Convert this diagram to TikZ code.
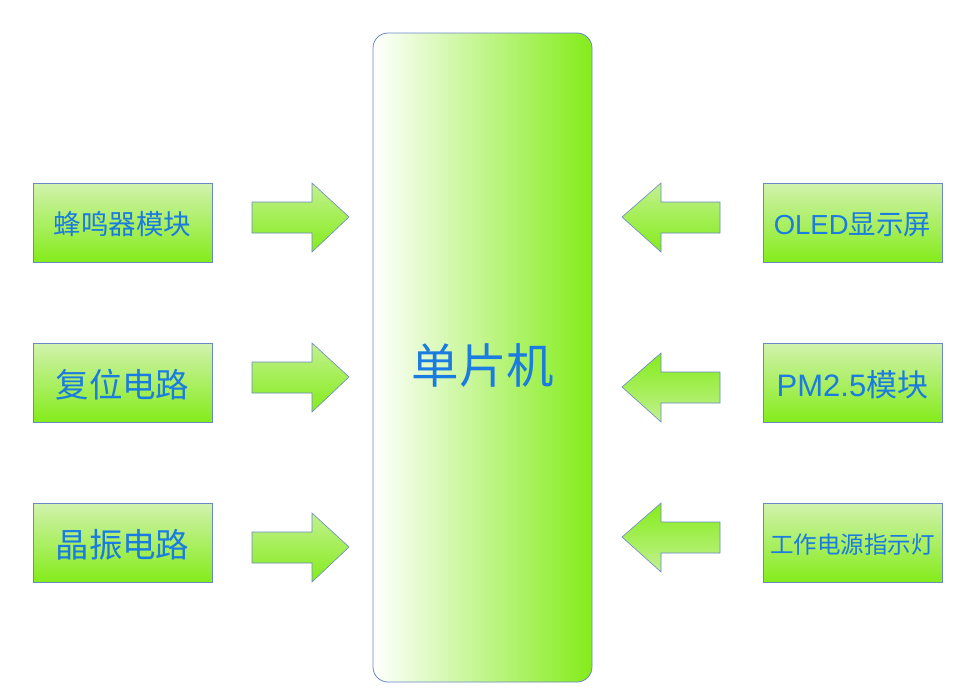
\documentclass[tikz,border=0pt]{standalone}
\usepackage{fontspec}
\newfontfamily\cjk{Noto Sans CJK SC}
\newfontfamily\lat{Liberation Sans}
\definecolor{txtblue}{HTML}{1A7BE0}
\definecolor{edgeblue}{HTML}{6A87C8}
\definecolor{lgreen}{HTML}{D2F2AE}
\definecolor{dgreen}{HTML}{84EC1A}
\begin{document}
\begin{tikzpicture}[x=1pt,y=-1pt,
  blockbox/.style={draw=edgeblue,line width=0.8pt,top color=lgreen,bottom color=dgreen,minimum width=179pt,minimum height=79pt,inner sep=0pt},
  blocktext/.style={text=txtblue,inner sep=0pt},
  rarrow/.style={draw=edgeblue,line width=0.6pt,top color=lgreen!80!dgreen,bottom color=dgreen},
  larrowup/.style={draw=edgeblue,line width=0.6pt,top color=lgreen!80!dgreen,bottom color=dgreen},
  larrowdn/.style={draw=edgeblue,line width=0.6pt,top color=dgreen,bottom color=lgreen!80!dgreen}]
\useasboundingbox (0,0) rectangle (959,699);
% central MCU
\node[draw=edgeblue,line width=0.8pt,rounded corners=15pt,left color=white,right color=dgreen,minimum width=219pt,minimum height=649pt,inner sep=0pt] (mcu) at (482.5,357.5) {};
\node[blocktext,font=\cjk\fontsize{47.5}{52}\selectfont] (mcutext) at (483,365) {单片机};
% left blocks
\node[blockbox] (buzz) at (122.5,222.5) {};
\node[blockbox] (reset) at (122.5,382.5) {};
\node[blockbox] (xtal) at (122.5,542.5) {};
\node[blocktext,font=\cjk\fontsize{27.5}{30}\selectfont] (buzzt) at (122.5,224.5) {蜂鸣器模块};
\node[blocktext,font=\cjk\fontsize{33.5}{36}\selectfont] (resett) at (122.5,384.5) {复位电路};
\node[blocktext,font=\cjk\fontsize{33.5}{36}\selectfont] (xtalt) at (122.5,544.5) {晶振电路};
% right blocks
\node[blockbox] (oled) at (852.5,222.5) {};
\node[blockbox] (pm) at (852.5,382.5) {};
\node[blockbox] (pwr) at (852.5,542.5) {};
\node[blocktext] (oledt) at (852.5,224.5) {\lat\fontsize{27.5}{30}\selectfont OLED\cjk 显示屏};
\node[blocktext] (pmt) at (852.5,384.5) {\lat\fontsize{31}{34}\selectfont PM2.5\cjk 模块};
\node[blocktext,font=\cjk\fontsize{23.5}{28}\selectfont] (pwrt) at (852.5,544.5) {工作电源指示灯};
% right-pointing arrows
\foreach \yc/\nm in {217/ra, 377/rb, 547/rc}{
  \coordinate (\nm) at (252,\yc);
  \path[rarrow] (\nm) ++(0,-15) -- ++(60,0) -- ++(0,-19) -- ++(37,34) -- ++(-37,35) -- ++(0,-19) -- ++(-60,0) -- cycle;
}
% left-pointing arrows
\coordinate (la) at (720,217);
\path[larrowup] (la) ++(0,-15) -- ++(-59,0) -- ++(0,-19) -- ++(-39,34) -- ++(39,35) -- ++(0,-19) -- ++(59,0) -- cycle;
\foreach \yc/\nm in {387/lb, 537/lc}{
  \coordinate (\nm) at (720,\yc);
  \path[larrowdn] (\nm) ++(0,-15) -- ++(-59,0) -- ++(0,-19) -- ++(-39,34) -- ++(39,35) -- ++(0,-19) -- ++(59,0) -- cycle;
}
\end{tikzpicture}
\end{document}
